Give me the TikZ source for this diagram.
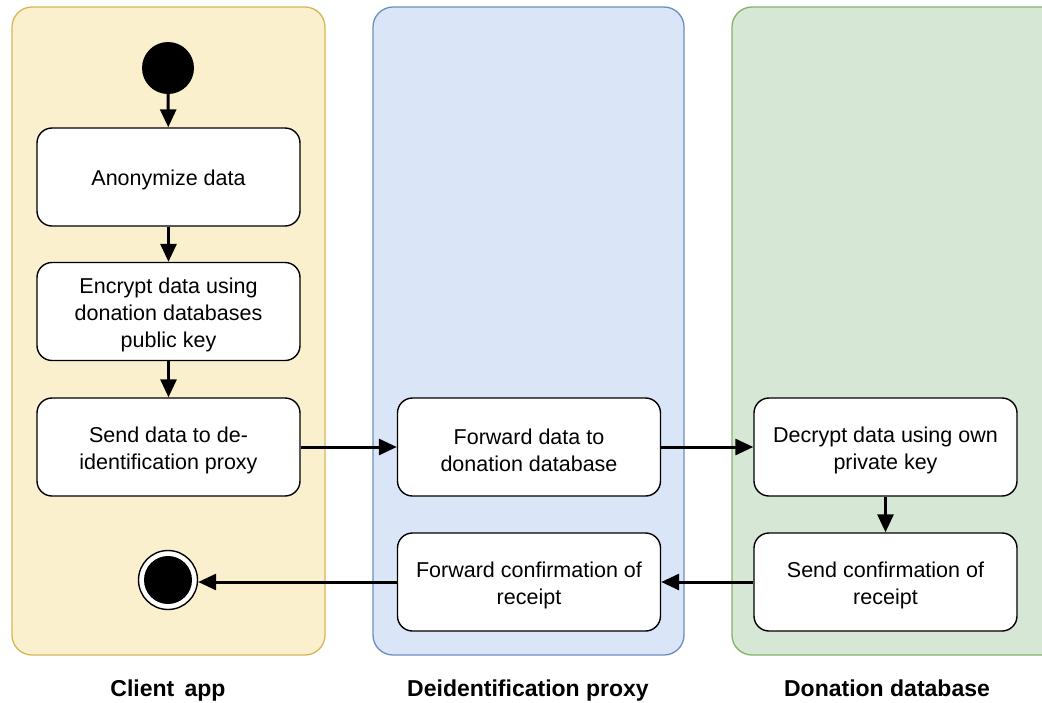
\documentclass[tikz,border=0pt]{standalone}
\usepackage{fontspec}
\setmainfont{Liberation Sans}
\usetikzlibrary{arrows.meta}
\definecolor{laneY}{HTML}{FBF0CD}
\definecolor{laneYline}{HTML}{D6B656}
\definecolor{laneB}{HTML}{DAE6F8}
\definecolor{laneBline}{HTML}{6C8EBF}
\definecolor{laneG}{HTML}{D7E7D5}
\definecolor{laneGline}{HTML}{82B366}
\tikzset{
  lane/.style={rounded corners=20pt, line width=1.3pt},
  act/.style={draw=black, fill=white, rounded corners=15pt, line width=1.4pt,
    minimum width=263pt, minimum height=98pt, align=center,
    font=\fontsize{21}{27}\selectfont, inner sep=0pt},
  acttext/.style={align=center, font=\fontsize{21.5}{27}\selectfont, inner sep=0pt},
  flow/.style={-{Triangle[length=18pt,width=16pt]}, line width=3pt},
  lanelabel/.style={font=\fontsize{23}{26}\selectfont\bfseries, anchor=base}
}
\newcommand{\actbox}[3]{%
  \node[act] (#1) at (#2) {};
  \node[acttext, yshift=-3pt] (#1txt) at (#1.center) {#3};
}
\begin{document}
\begin{tikzpicture}[x=1pt,y=-1pt]
\useasboundingbox (0,0) rectangle (1042,702);
% swimlanes
\draw[lane, fill=laneY, draw=laneYline] (12,7) rectangle (325,655);
\draw[lane, fill=laneB, draw=laneBline] (373,7) rectangle (684,655);
\draw[lane, fill=laneG, draw=laneGline] (732,7) rectangle (1070,655);
\node[lanelabel] (lblC) at (168,696) {Client\, app};
\node[lanelabel] (lblP) at (528,696) {Deidentification proxy};
\node[lanelabel] (lblD) at (887,696) {Donation database};
% start and end
\node[circle, fill=black, minimum size=52pt, inner sep=0pt] (start) at (168,68) {};
\node[circle, draw=black, line width=1.4pt, fill=white, minimum size=59pt, inner sep=0pt] (stop) at (168,580) {};
\node[circle, fill=black, minimum size=48pt, inner sep=0pt] (stopin) at (168,580) {};
% activities
\actbox{anon}{168.5,177}{Anonymize data}
\actbox{enc}{168.5,311.5}{Encrypt data using\\donation databases\\public key}
\actbox{send}{168.5,447}{Send data to de-\\identification proxy}
\actbox{fwd}{529,447}{Forward data to\\donation database}
\actbox{dec}{885.5,447}{Decrypt data using own\\private key}
\actbox{conf}{885.5,582}{Send confirmation of\\receipt}
\actbox{fconf}{529,582}{Forward confirmation of\\receipt}
% flow
\draw[flow] (start) -- (anon);
\draw[flow] (anon) -- (enc);
\draw[flow] (enc) -- (send);
\draw[flow] (send) -- (fwd);
\draw[flow] (fwd) -- (dec);
\draw[flow] (dec) -- (conf);
\draw[flow] (conf) -- (fconf);
\draw[flow] (fconf.west) -- (stop.east |- fconf.west);
\end{tikzpicture}
\end{document}
